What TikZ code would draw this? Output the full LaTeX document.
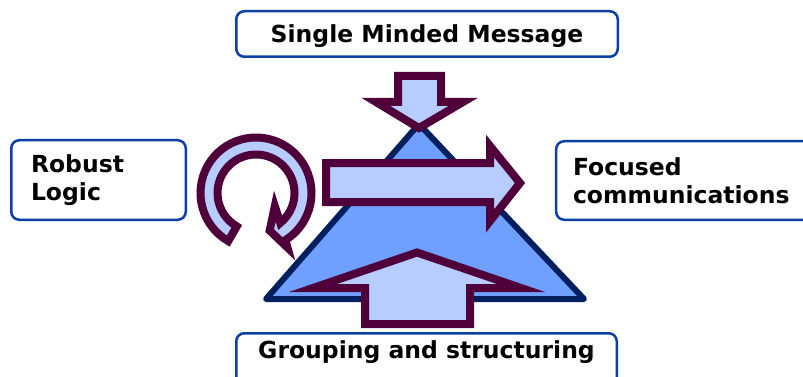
\documentclass[tikz,border=0pt]{standalone}
\usepackage{fontspec}
\setmainfont{DejaVu Sans}

\definecolor{vienkhung}{HTML}{0B3FA6}
\definecolor{nentamgiac}{HTML}{6FA0FF}
\definecolor{vientamgiac}{HTML}{001F5F}
\definecolor{nenmui}{HTML}{B8CDFF}
\definecolor{vienmui}{HTML}{4F003B}

\begin{document}
\begin{tikzpicture}[x=1pt, y=-1pt,
    khung/.style={draw=vienkhung, line width=2.5pt, rounded corners=8pt, fill=white,
        font=\bfseries\fontsize{23.5}{28.4}\selectfont},
    motdong/.style={khung, text height=18pt, text depth=0pt},
    haidong/.style={khung, align=left},
    muiten/.style={fill=nenmui, draw=vienmui, line width=8pt}]
    \useasboundingbox (0,0) rectangle (803,377);

    % Tam giác
    \draw[fill=nentamgiac, draw=vientamgiac, line width=6pt, line join=round]
        (419,124) -- (584,299) -- (266,299) -- cycle;

    % Các mũi tên
    \draw[muiten] (365,324) -- (365,288) -- (313,288) -- (417,252.5) -- (521,288)
        -- (470,288) -- (470,324) -- cycle;
    \draw[muiten] (326,163) -- (490,163) -- (490,146) -- (520,183) -- (490,221)
        -- (490,202) -- (326,202) -- cycle;
    \draw[muiten] (398,76) -- (441,76) -- (441,102) -- (463,102) -- (419,128)
        -- (376,102) -- (398,102) -- cycle;
    \draw[muiten, shift={(256,193)}] (120:55.5)
        arc[start angle=120, end angle=418, radius=55.5]
        -- (420:63) -- (430:40) -- (395:23) -- (411:38.5)
        arc[start angle=411, end angle=120, radius=38.5] -- cycle;

    % Các khung chữ
    \node[motdong, minimum width=381.5pt, minimum height=45.5pt] (message)
        at (427,34) {Single Minded Message};
    \node[haidong, minimum width=174.5pt, minimum height=79.5pt, text width=135pt] (logic)
        at (98.5,180) {Robust\\Logic};
    \node[haidong, minimum width=263.75pt, minimum height=78.5pt, text width=230pt] (focus)
        at (688,180.5) {Focused\\communications};
    \node[motdong, text depth=22.5pt, minimum width=380.5pt, minimum height=54pt] (group)
        at (426.5,360.25) {Grouping and structuring};
\end{tikzpicture}
\end{document}
